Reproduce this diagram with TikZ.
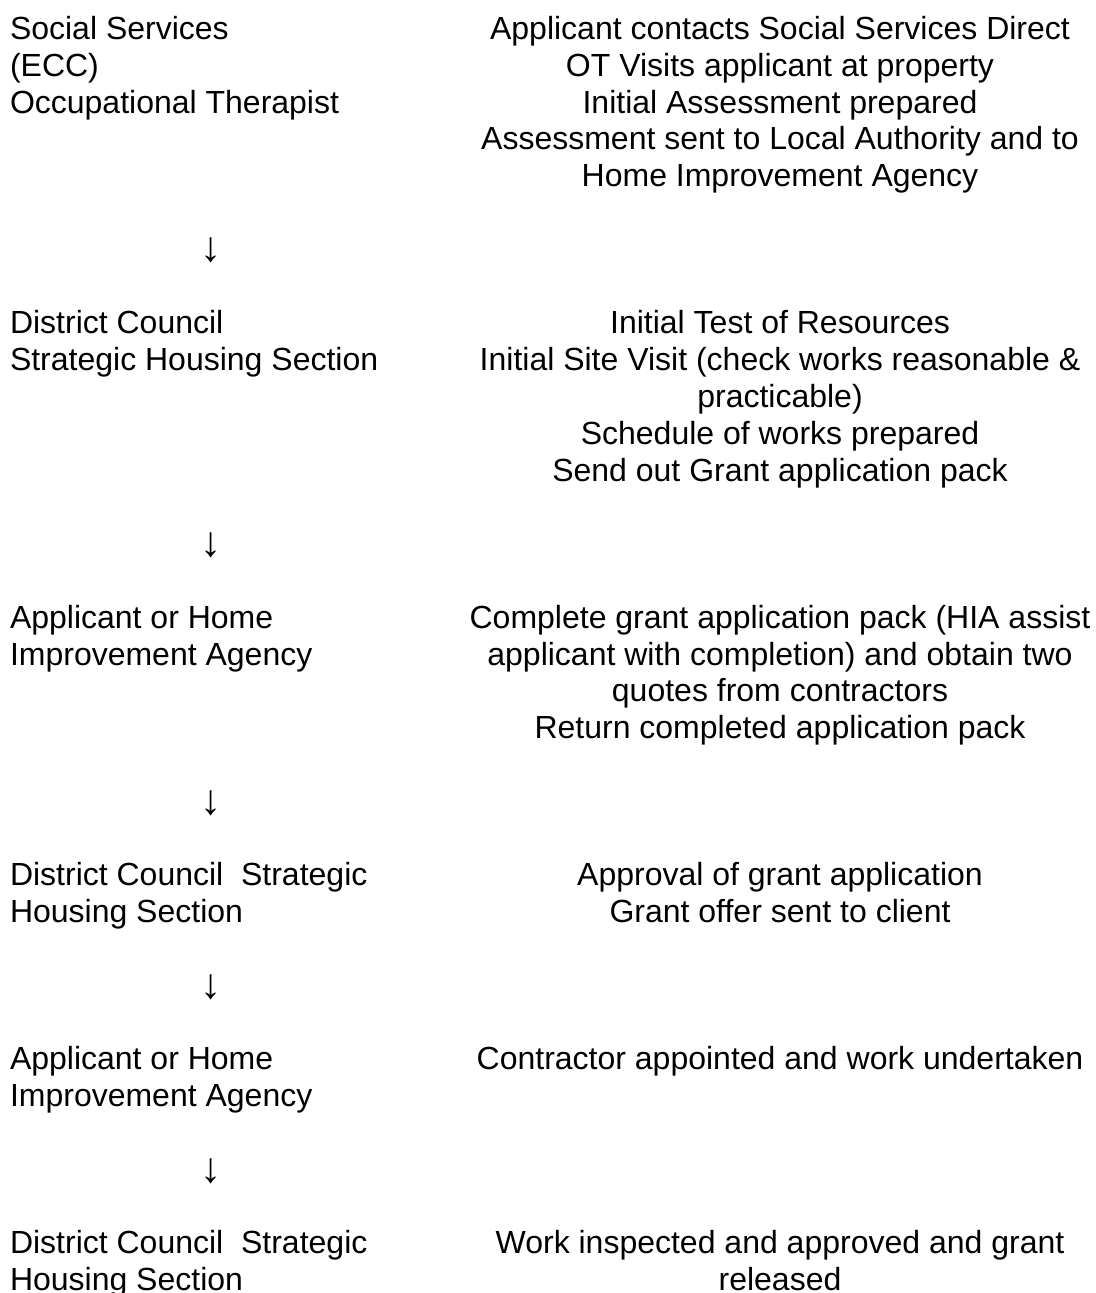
\documentclass[tikz,border=0pt]{standalone}
\usepackage{fontspec}
\usepackage{graphicx}
\setmainfont{Liberation Sans}
\newcommand{\downarr}{\resizebox*{!}{25pt}{↓}}
\begin{document}
\begin{tikzpicture}[x=1pt,y=1pt,
  every node/.style={inner sep=0pt,outer sep=0pt,font=\fontsize{32}{36.8}\selectfont},
  lt/.style={anchor=base west},
  rt/.style={anchor=base},
  arr/.style={anchor=center}]
\useasboundingbox (0,0) rectangle (1095,-1293);
% Row 1
\node[lt] (l1a) at (10,-39.5) {Social Services};
\node[lt] (l1b) at (10,-76.3) {(ECC)};
\node[lt] (l1c) at (10,-113.1) {Occupational Therapist};
\node[rt] (r1a) at (780,-39.5) {Applicant contacts Social Services Direct};
\node[rt] (r1b) at (780,-76.3) {OT Visits applicant at property};
\node[rt] (r1c) at (780,-113.1) {Initial Assessment prepared};
\node[rt] (r1d) at (780,-149.9) {Assessment sent to Local Authority and to};
\node[rt] (r1e) at (780,-186.7) {Home Improvement Agency};
\node[arr] (a1) at (211,-250.5) {\downarr};
% Row 2
\node[lt] (l2a) at (10,-333.9) {District Council};
\node[lt] (l2b) at (10,-370.7) {Strategic Housing Section};
\node[rt] (r2a) at (780,-333.9) {Initial Test of Resources};
\node[rt] (r2b) at (780,-370.7) {Initial Site Visit (check works reasonable \&};
\node[rt] (r2c) at (780,-407.5) {practicable)};
\node[rt] (r2d) at (780,-444.3) {Schedule of works prepared};
\node[rt] (r2e) at (780,-481.1) {Send out Grant application pack};
\node[arr] (a2) at (211,-545.3) {\downarr};
% Row 3
\node[lt] (l3a) at (10,-628.3) {Applicant or Home};
\node[lt] (l3b) at (10,-665.1) {Improvement Agency};
\node[rt] (r3a) at (780,-628.3) {Complete grant application pack (HIA assist};
\node[rt] (r3b) at (780,-665.1) {applicant with completion) and obtain two};
\node[rt] (r3c) at (780,-701.9) {quotes from contractors};
\node[rt] (r3d) at (780,-738.7) {Return completed application pack};
\node[arr] (a3) at (211,-802.9) {\downarr};
% Row 4
\node[lt] (l4a) at (10,-885.9) {District Council\ \ Strategic};
\node[lt] (l4b) at (10,-922.7) {Housing Section};
\node[rt] (r4a) at (780,-885.9) {Approval of grant application};
\node[rt] (r4b) at (780,-922.7) {Grant offer sent to client};
\node[arr] (a4) at (211,-986.9) {\downarr};
% Row 5
\node[lt] (l5a) at (10,-1069.9) {Applicant or Home};
\node[lt] (l5b) at (10,-1106.7) {Improvement Agency};
\node[rt] (r5a) at (780,-1069.9) {Contractor appointed and work undertaken};
\node[arr] (a5) at (211,-1170.9) {\downarr};
% Row 6
\node[lt] (l6a) at (10,-1253.9) {District Council\ \ Strategic};
\node[lt] (l6b) at (10,-1290.7) {Housing Section};
\node[rt] (r6a) at (780,-1253.9) {Work inspected and approved and grant};
\node[rt] (r6b) at (780,-1290.7) {released};
\end{tikzpicture}
\end{document}
